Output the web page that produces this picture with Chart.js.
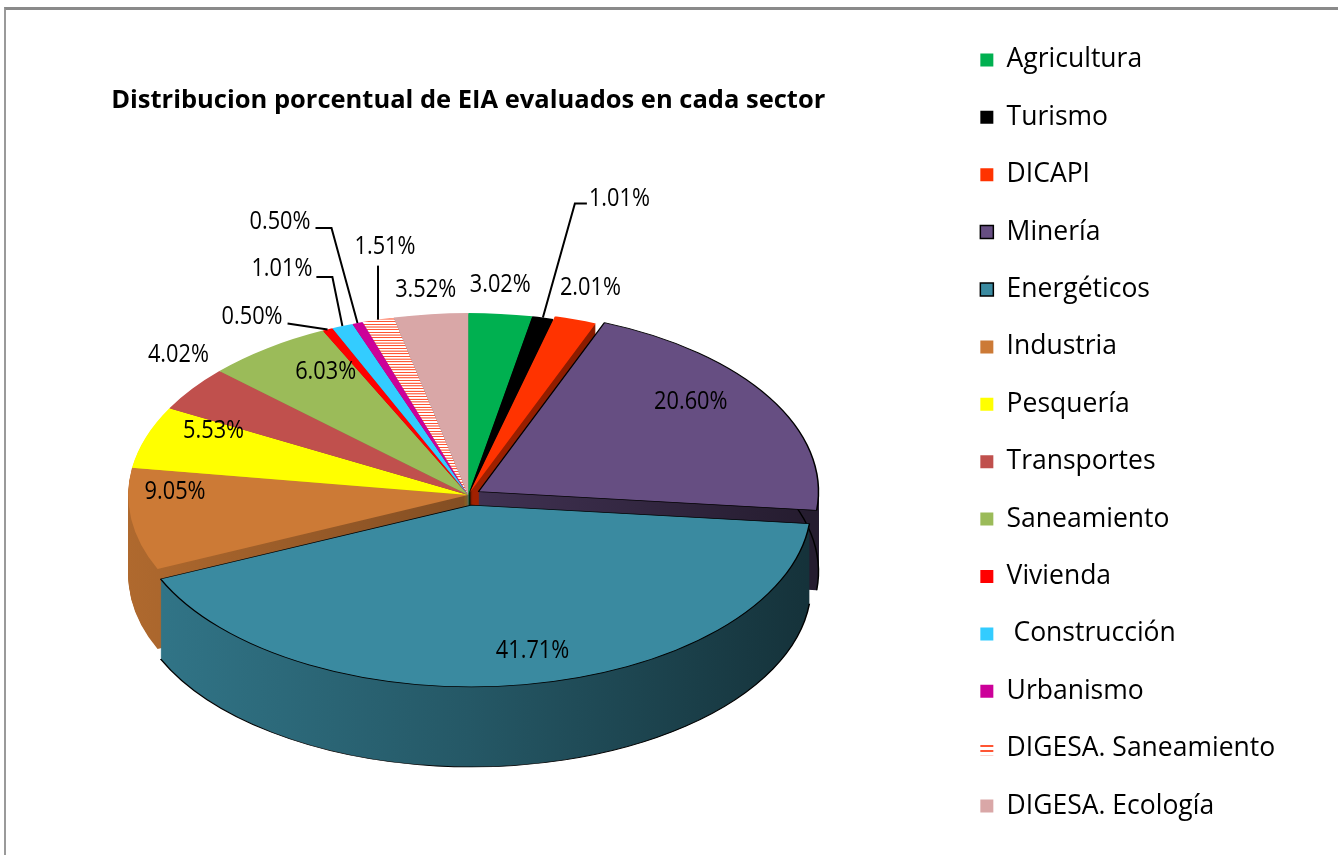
<!DOCTYPE html>
<html>
<head>
<meta charset="utf-8">
<title>Distribucion porcentual de EIA evaluados en cada sector</title>
<script src="https://cdn.jsdelivr.net/npm/chart.js@4.4.1/dist/chart.umd.min.js"></script>
<style>
  html, body { margin: 0; padding: 0; background: #fff; overflow: hidden; }
  #marco { position: absolute; left: 4px; top: 7px; width: 1400px; height: 900px;
           border-top: 3px solid #8a8a8a; border-left: 2px solid #9a9a9a; }
  #grafico { position: absolute; left: -13px; top: 0; }
</style>
</head>
<body>
<div id="marco"></div>
<canvas id="grafico" width="1351" height="855"></canvas>
<script>
var sectores = ["Agricultura", "Turismo", "DICAPI", "Minería", "Energéticos", "Industria", "Pesquería",
                "Transportes", "Saneamiento", "Vivienda", " Construcción", "Urbanismo",
                "DIGESA. Saneamiento", "DIGESA. Ecología"];
var porcentajes = [3.02, 1.01, 2.01, 20.60, 41.71, 9.05, 5.53, 4.02, 6.03, 0.50, 1.01, 0.50, 1.51, 3.52];

// estilo
var TILT = 0.535;   // inclinacion del pastel
var DEPTH = 80;     // grosor en px
var separacion = [0, 0, 5, 12, 19, 0, 0, 0, 0, 0, 0, 0, 0, 0];
var bordes = [0, 0, 0, 1.5, 1.5, 0, 0, 0, 0, 0, 0, 0, 0, 0];

// etiquetas: r = fraccion del radio, dx/dy ajuste; guia = [codo x, codo y, tramo horizontal]
var etiquetas = [
    {r: 1.15, dx: -5, dy: -2},
    {guia: [32, -114, 12], tx: 2, ty: -5, align: 'left'},
    {r: 1.15, dx: -1, dy: -6},
    {r: 0.73, dx: 0, dy: -21},
    {r: 0.81, dx: 18, dy: 0},
    {r: 0.87, dx: 0, dy: -24},
    {r: 0.79, dx: 0, dy: -18},
    {r: 1.05, dx: 0, dy: -29},
    {r: 0.71, dx: 0, dy: -19},
    {guia: [-40, -6, 0], tx: -5, ty: -7, align: 'right'},
    {guia: [-10, -49, -16], tx: -4, ty: -8, align: 'right'},
    {guia: [-26, -95, -16], tx: -5, ty: -6, align: 'right'},
    {guia: [0, -54, 0], tx: 7, ty: -19, align: 'center'},
    {r: 1.134, dx: 0, dy: 0}
];

function rayado() {
    var c = document.createElement('canvas');
    c.width = 8; c.height = 5;
    var g = c.getContext('2d');
    g.fillStyle = '#ffffff';
    g.fillRect(0, 0, 8, 5);
    g.fillStyle = '#ff5533';
    g.fillRect(0, 0, 8, 2);
    return g.createPattern(c, 'repeat');
}

var colores = ['#00B050', '#000000', '#FF3300', '#664E82', '#3A8AA0', '#CC7A36', '#FFFF00',
               '#C0504D', '#9BBB59', '#FF0000', '#33CCFF', '#CC0099', rayado(), '#D9A7A7'];

function oscurecer(hex, f) {
    var n = parseInt(hex.slice(1), 16);
    return 'rgb(' + Math.round((n >> 16 & 255) * f) + ',' + Math.round((n >> 8 & 255) * f) + ',' +
        Math.round((n & 255) * f) + ')';
}

function degradado(ctx, color, x0, x1) {
    var g = ctx.createLinearGradient(x0, 0, x1, 0);
    g.addColorStop(0, oscurecer(color, 0.86));
    g.addColorStop(0.5, oscurecer(color, 0.64));
    g.addColorStop(1, oscurecer(color, 0.36));
    return g;
}

var pastel3d = {
    id: 'pastel3d',
    afterDatasetUpdate: function(chart) {
        var meta = chart.getDatasetMeta(0);
        meta.data.forEach(function(arc, i) {
            var mid = (arc.startAngle + arc.endAngle) / 2;
            arc.x += Math.cos(mid) * separacion[i];
            arc.y += Math.sin(mid) * separacion[i];
        });
    },
    beforeDatasetsDraw: function(chart) {
        var ctx = chart.ctx, area = chart.chartArea;
        var cx = (area.left + area.right) / 2, cy = (area.top + area.bottom) / 2;
        var meta = chart.getDatasetMeta(0);
        ctx.save();
        ctx.translate(cx, cy);
        ctx.scale(1, TILT);
        ctx.translate(-cx, -cy);
        var R = meta.data[0].outerRadius;
        var fills = meta.data.map(function(arc, i) {
            var base = typeof colores[i] === 'string' ? colores[i] : '#E06A50';
            return degradado(ctx, base, cx - R, cx + R);
        });
        for (var d = DEPTH; d >= 1; d--) {
            var off = d / TILT;
            meta.data.forEach(function(arc, i) {
                ctx.beginPath();
                ctx.moveTo(arc.x, arc.y + off);
                ctx.arc(arc.x, arc.y + off, arc.outerRadius, arc.startAngle, arc.endAngle);
                ctx.closePath();
                ctx.fillStyle = fills[i];
                ctx.fill();
            });
        }
        // borde inferior de los sectores con contorno
        meta.data.forEach(function(arc, i) {
            if (!bordes[i]) return;
            ctx.beginPath();
            ctx.arc(arc.x, arc.y + DEPTH / TILT, arc.outerRadius, arc.startAngle, arc.endAngle);
            ctx.strokeStyle = '#000';
            ctx.lineWidth = 1.5;
            ctx.stroke();
        });
    },
    afterDatasetsDraw: function(chart) {
        var ctx = chart.ctx, area = chart.chartArea;
        ctx.restore();
        var cy = (area.top + area.bottom) / 2;
        var meta = chart.getDatasetMeta(0);

        function punto(arc, r) {
            var mid = (arc.startAngle + arc.endAngle) / 2;
            var y = arc.y + Math.sin(mid) * r;
            return {x: arc.x + Math.cos(mid) * r, y: cy + (y - cy) * TILT};
        }
        function texto(t, x, y, align) {
            ctx.save();
            ctx.translate(x, y);
            ctx.scale(0.87, 1);
            ctx.font = '25px "Open Sans"';
            ctx.fillStyle = '#000';
            ctx.textAlign = align;
            ctx.textBaseline = 'middle';
            ctx.fillText(t, 0, 0);
            ctx.restore();
        }

        meta.data.forEach(function(arc, i) {
            var e = etiquetas[i];
            var t = porcentajes[i].toFixed(2) + '%';
            if (e.guia) {
                var a = punto(arc, arc.outerRadius);
                var codo = {x: a.x + e.guia[0], y: a.y + e.guia[1]};
                var fin = {x: codo.x + e.guia[2], y: codo.y};
                ctx.beginPath();
                ctx.moveTo(a.x, a.y);
                ctx.lineTo(codo.x, codo.y);
                ctx.lineTo(fin.x, fin.y);
                ctx.strokeStyle = '#000';
                ctx.lineWidth = 2;
                ctx.stroke();
                texto(t, fin.x + e.tx, fin.y + e.ty, e.align);
            } else {
                var p = punto(arc, arc.outerRadius * e.r);
                texto(t, p.x + e.dx, p.y + e.dy, 'center');
            }
        });
    }
};

Chart.defaults.font.family = '"Open Sans", sans-serif';

var ctx = document.getElementById('grafico').getContext('2d');
var grafico = new Chart(ctx, {
    type: 'pie',
    data: {
        labels: sectores,
        datasets: [{
            data: porcentajes,
            backgroundColor: colores,
            borderColor: '#000000',
            borderWidth: bordes,
            radius: 340
        }]
    },
    options: {
        responsive: false,
        animation: false,
        events: [],
        layout: {
            padding: {left: 0, right: 52.8, top: 11, bottom: 0}
        },
        plugins: {
            title: {
                display: true,
                text: 'Distribucion porcentual de EIA evaluados en cada sector',
                color: '#000',
                fullSize: false,
                font: {size: 25.5, weight: 'bold'},
                padding: {top: 74.7, bottom: 18.7}
            },
            legend: {
                position: 'right',
                align: 'center',
                labels: {
                    color: '#000',
                    boxWidth: 13,
                    boxHeight: 13,
                    padding: 30.9,
                    font: {size: 26.5}
                }
            },
            tooltip: {enabled: false}
        }
    },
    plugins: [pastel3d]
});
</script>
</body>
</html>
